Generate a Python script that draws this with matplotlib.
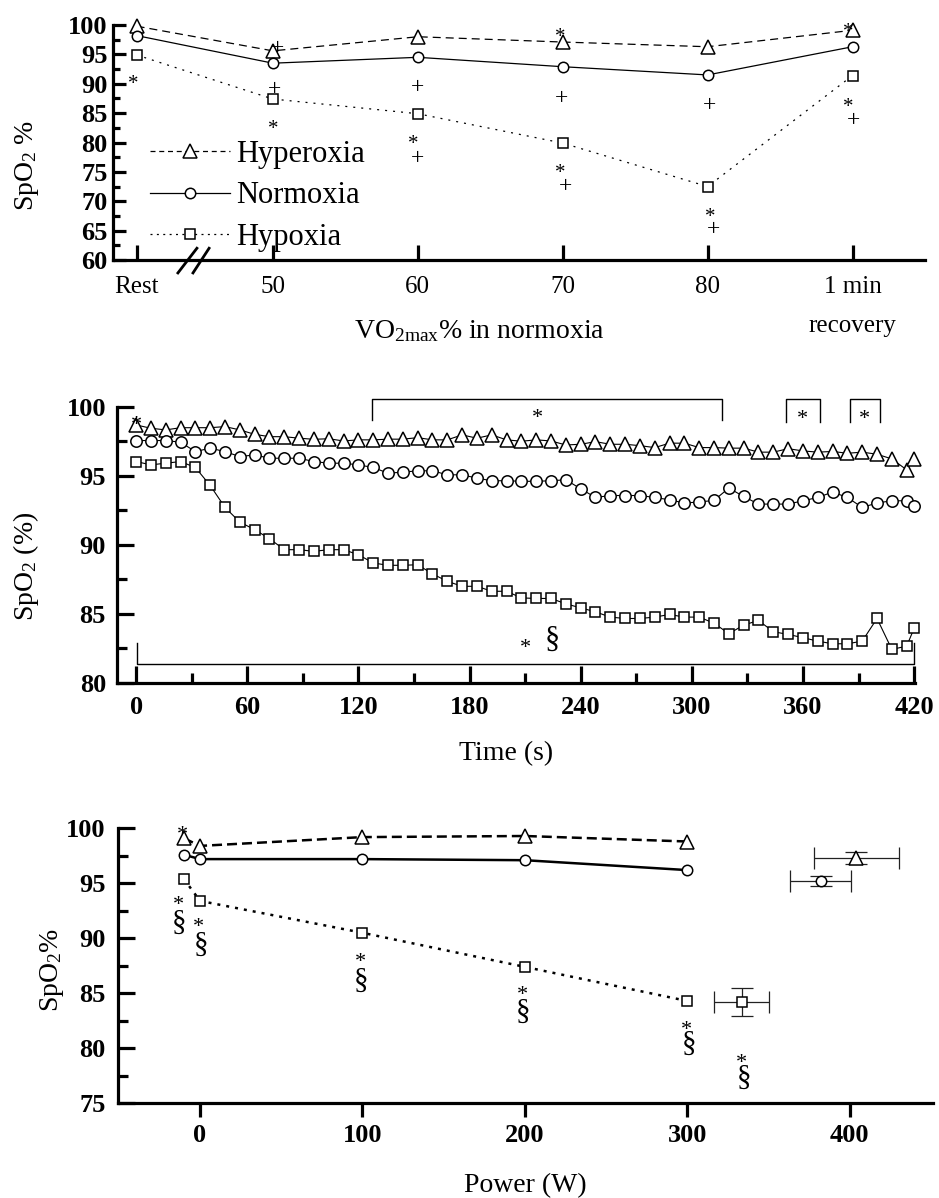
import matplotlib
matplotlib.use('Agg')
import matplotlib.pyplot as plt
from matplotlib.lines import Line2D
from matplotlib.transforms import ScaledTranslation, blended_transform_factory

plt.rcParams['font.family'] = ['Liberation Serif', 'DejaVu Serif']
plt.rcParams['mathtext.fontset'] = 'custom'
plt.rcParams['mathtext.rm'] = 'Liberation Serif'
plt.rcParams['mathtext.it'] = 'Liberation Serif:italic'
plt.rcParams['mathtext.bf'] = 'Liberation Serif:bold'

# ---------------- Panel A data ----------------
stage_labels = ['Rest', '50', '60', '70', '80', '1 min']
stage_pos = [40.6, 50, 60, 70, 80, 90]
hyper_a = [99.8, 95.6, 98.0, 97.1, 96.3, 99.1]
normo_a = [98.2, 93.5, 94.5, 92.9, 91.5, 96.3]
hypo_a = [94.9, 87.4, 84.9, 79.9, 72.5, 91.4]
stars_a = [(40.35, 90.8), (50.0, 83.15), (59.7, 80.5), (69.8, 98.7), (69.8, 75.6),
           (80.2, 68.2), (89.7, 99.7), (89.7, 86.9)]
plus_a = [(50.3, 96.1), (50.1, 89.1), (60.0, 89.4), (60.0, 77.4), (69.9, 87.5),
          (70.2, 72.5), (80.1, 86.4), (80.4, 65.2), (90.1, 83.8)]

# ---------------- Panel B data ----------------
time_b = [0, 8, 16, 24, 32, 40, 48, 56, 64, 72, 80, 88, 96, 104, 112, 120, 128, 136,
          144, 152, 160, 168, 176, 184, 192, 200, 208, 216, 224, 232, 240, 248, 256,
          264, 272, 280, 288, 296, 304, 312, 320, 328, 336, 344, 352, 360, 368, 376,
          384, 392, 400, 408, 416, 420]
hyper_b = [98.68, 98.44, 98.32, 98.48, 98.48, 98.48, 98.56, 98.32, 98.0, 97.83, 97.83,
           97.72, 97.64, 97.68, 97.52, 97.6, 97.6, 97.65, 97.65, 97.76, 97.6, 97.6,
           97.96, 97.72, 97.96, 97.6, 97.5, 97.6, 97.52, 97.23, 97.28, 97.47, 97.28,
           97.28, 97.18, 97.04, 97.36, 97.36, 97.04, 97.04, 97.0, 97.0, 96.71, 96.71,
           96.96, 96.8, 96.71, 96.76, 96.63, 96.71, 96.56, 96.22, 95.43, 96.22]
normo_b = [97.55, 97.55, 97.55, 97.43, 96.75, 97.0, 96.75, 96.39, 96.51, 96.27, 96.27,
           96.27, 96.03, 95.91, 95.91, 95.79, 95.6, 95.19, 95.26, 95.36, 95.36, 95.07,
           95.07, 94.83, 94.64, 94.64, 94.6, 94.6, 94.64, 94.71, 94.06, 93.43, 93.57,
           93.57, 93.57, 93.43, 93.26, 93.03, 93.1, 93.22, 94.11, 93.5, 92.95, 92.95,
           92.95, 93.19, 93.43, 93.82, 93.43, 92.71, 93.03, 93.19, 93.19, 92.78]
hypo_b = [96.03, 95.79, 95.91, 96.03, 95.6, 94.3, 92.71, 91.65, 91.1, 90.45, 89.65,
          89.65, 89.53, 89.65, 89.65, 89.29, 88.69, 88.52, 88.52, 88.56, 87.9, 87.36,
          87.0, 87.0, 86.64, 86.64, 86.16, 86.12, 86.12, 85.73, 85.44, 85.15, 84.77,
          84.67, 84.67, 84.77, 84.96, 84.77, 84.77, 84.33, 83.57, 84.19, 84.53, 83.71,
          83.52, 83.28, 83.03, 82.84, 82.84, 83.03, 84.67, 82.43, 82.67, 83.95]
time_ticks_b = [0, 60, 120, 180, 240, 300, 360, 420]

# ---------------- Panel C data ----------------
power_c = [-10, 0, 100, 200, 300]
hyper_c = [99.1, 98.4, 99.2, 99.3, 98.8]
normo_c = [97.6, 97.2, 97.2, 97.1, 96.2]
hypo_c = [95.4, 93.4, 90.5, 87.4, 84.3]
max_power = [404, 382, 333.5]
max_power_err = [26, 19, 17]
max_spo2 = [97.3, 95.2, 84.2]
max_spo2_err = [0.55, 0.45, 1.25]
power_ticks_c = [0, 100, 200, 300, 400]

W, H = 939, 1198
fig = plt.figure(figsize=(W / 100, H / 100), dpi=100)


def pxaxes(l, t, r, b):
    return fig.add_axes([l / W, 1 - b / H, (r - l) / W, (b - t) / H])


def glyph(ax, x, y, s, fs, k, **kw):
    tr = ax.transData + ScaledTranslation(0, -k * fs / 72, fig.dpi_scale_trans)
    ax.text(x, y, s, fontsize=fs, ha='center', va='baseline', transform=tr,
            clip_on=False, **kw)


def style(ax):
    for s in ['top', 'right']:
        ax.spines[s].set_visible(False)
    for s in ['left', 'bottom']:
        ax.spines[s].set_linewidth(2.3)


mk = dict(color='black', mfc='white', mec='black', mew=1.1)

# ================= Panel A =================
ax1 = pxaxes(113, 25, 925, 260)
style(ax1)
ax1.set_xlim(38.97, 95)
ax1.set_ylim(60, 100)
ax1.plot(stage_pos, hyper_a, ls=(0, (6.4, 4)), lw=0.9, marker='^', ms=10, zorder=3, clip_on=False, **mk)
ax1.plot(stage_pos, normo_a, ls='-', lw=0.9, marker='o', ms=7.5, zorder=3, clip_on=False, **mk)
ax1.plot(stage_pos, hypo_a, ls=(0, (1.6, 4.8)), lw=0.9, marker='s', ms=6.5, zorder=3, clip_on=False, **mk)
# axis break gap
ax1.axvspan(43.9, 44.97, ymin=0.04, ymax=1, color='white', zorder=2.5, lw=0)
btr = blended_transform_factory(ax1.transData, ax1.transAxes)
ax1.plot([43.45, 44.76], [-0.055, 0.05], color='black', lw=2, transform=btr, clip_on=False, zorder=5)
ax1.plot([44.49, 45.6], [-0.055, 0.05], color='black', lw=2, transform=btr, clip_on=False, zorder=5)
for x, y in stars_a:
    glyph(ax1, x, y, '*', 15, 0.47)
for x, y in plus_a:
    glyph(ax1, x, y, '+', 17, 0.25)
ax1.set_xticks(stage_pos)
ax1.set_xticklabels(stage_labels, fontsize=18)
ax1.text(stage_pos[-1], -0.305, 'recovery', transform=btr, ha='center', va='baseline', fontsize=18)
ax1.set_yticks(range(60, 101, 5))
ax1.set_yticks([62.5 + 5 * i for i in range(8)], minor=True)
ax1.tick_params(axis='y', which='major', direction='in', length=9, width=2.3, pad=4, labelsize=19)
ax1.tick_params(axis='y', which='minor', direction='in', length=5, width=2.3)
ax1.tick_params(axis='x', which='major', direction='in', length=11, width=2.3, pad=11.5)
for lab in ax1.get_yticklabels():
    lab.set_fontweight('bold')
ax1.text(0.451, -0.332, r'VO$_{\mathrm{2max}}$% in normoxia', transform=ax1.transAxes,
         ha='center', va='baseline', fontsize=20)
ax1.text(-0.106, 0.404, r'SpO$_{2}$ %', transform=ax1.transAxes, rotation=90,
         ha='center', va='center', fontsize=20)
handles = [
    Line2D([], [], ls=(0, (4, 3)), lw=0.9, marker='^', ms=10, **mk),
    Line2D([], [], ls='-', lw=0.9, marker='o', ms=7.5, **mk),
    Line2D([], [], ls=(0, (1.6, 3.5)), lw=0.9, marker='s', ms=6.5, **mk),
]
ax1.legend(handles, ['Hyperoxia', 'Normoxia', 'Hypoxia'], loc='upper left',
           bbox_to_anchor=(0.046, 0.51), frameon=False, fontsize=22, handlelength=2.6,
           handletextpad=0.2, labelspacing=0.4, borderpad=0, borderaxespad=0, numpoints=1)

# ================= Panel B =================
ax2 = pxaxes(117, 406.7, 915, 683)
style(ax2)
ax2.set_xlim(-10.3, 420.5)
ax2.set_ylim(80, 100)
ax2.plot(time_b, hyper_b, ls='-', lw=0.8, marker='^', ms=9.6, zorder=3, clip_on=False, **mk)
ax2.plot(time_b, normo_b, ls='-', lw=0.8, marker='o', ms=8.2, zorder=3, clip_on=False, **mk)
ax2.plot(time_b, hypo_b, ls='-', lw=0.8, marker='s', ms=7.3, zorder=3, clip_on=False, **mk)
bk = dict(color='black', lw=1.0, clip_on=False)
ax2.plot([127.3, 127.3, 316.2, 316.2], [99.04, 100.56, 100.56, 99.04], **bk)
ax2.plot([351, 351, 369.3, 369.3], [98.92, 100.56, 100.56, 98.92], **bk)
ax2.plot([385.5, 385.5, 401.4, 401.4], [98.92, 100.56, 100.56, 98.92], **bk)
ax2.plot([0.4, 0.4, 420, 420], [82.9, 81.4, 81.4, 82.9], **bk)
glyph(ax2, 0, 99.1, '*', 16, 0.47)
glyph(ax2, 216.9, 99.6, '*', 16, 0.47)
glyph(ax2, 360, 99.47, '*', 16, 0.47)
glyph(ax2, 393.1, 99.52, '*', 16, 0.47)
glyph(ax2, 210, 82.9, '*', 16, 0.47)
glyph(ax2, 224.4, 83.15, '§', 22, 0.27)
ax2.set_xticks(time_ticks_b)
ax2.set_xticks([30 + 60 * i for i in range(7)], minor=True)
ax2.set_yticks([80, 85, 90, 95, 100])
ax2.set_yticks([82.5, 87.5, 92.5, 97.5], minor=True)
ax2.tick_params(which='major', direction='in', length=12, width=2.3, labelsize=19)
ax2.tick_params(which='minor', direction='in', length=7, width=2.3)
ax2.tick_params(axis='y', pad=8)
ax2.tick_params(axis='x', pad=9)
for lab in ax2.get_xticklabels() + ax2.get_yticklabels():
    lab.set_fontweight('bold')
ax2.text(0.487, -0.28, 'Time (s)', transform=ax2.transAxes, ha='center', va='baseline', fontsize=20)
ax2.text(-0.114, 0.423, r'SpO$_{2}$ (%)', transform=ax2.transAxes, rotation=90,
         ha='center', va='center', fontsize=20)

# ================= Panel C =================
ax3 = pxaxes(118, 828.3, 932.7, 1103.3)
style(ax3)
ax3.set_xlim(-50.5, 451)
ax3.set_ylim(75, 100)
ax3.plot(power_c, hyper_c, ls=(0, (4, 2)), lw=1.8, marker='^', ms=9.5, zorder=3, clip_on=False, **mk)
ax3.plot(power_c, normo_c, ls='-', lw=1.8, marker='o', ms=7.5, zorder=3, clip_on=False, **mk)
ax3.plot(power_c, hypo_c, ls=(0, (1.2, 2.4)), lw=1.8, marker='s', ms=6.5, zorder=3, clip_on=False, **mk)
ax3.errorbar(max_power, max_spo2, xerr=max_power_err, yerr=max_spo2_err, fmt='none',
             ecolor='#222222', elinewidth=0.9, capsize=8, capthick=0.9, zorder=2)
for x, y, m, s in zip(max_power, max_spo2, ['^', 'o', 's'], [9.5, 7.5, 6.5]):
    ax3.plot([x], [y], ls='none', marker=m, ms=s, zorder=4, **mk)
glyph(ax3, -10.6, 99.9, '*', 16, 0.47)
star_sect_c = [(-13.3, 93.5, -12.9, 91.5), (-1.0, 91.5, 0.4, 89.5), (98.5, 88.3, 99.1, 86.2),
               (198.4, 85.3, 199.0, 83.4), (299.5, 82.2, 300.9, 80.5), (333.3, 79.2, 335.0, 77.4)]
for xs, ys, xq, yq in star_sect_c:
    glyph(ax3, xs, ys, '*', 16, 0.47)
    glyph(ax3, xq, yq, '§', 21, 0.27)
ax3.set_xticks(power_ticks_c)
ax3.set_yticks([75, 80, 85, 90, 95, 100])
ax3.set_yticks([77.5, 82.5, 87.5, 92.5, 97.5], minor=True)
ax3.tick_params(axis='y', which='major', direction='in', length=12, width=2.3, pad=9, labelsize=19)
ax3.tick_params(axis='y', which='minor', direction='in', length=7, width=2.3)
ax3.tick_params(axis='x', which='major', direction='out', length=10, width=2.3, pad=5, labelsize=19)
for lab in ax3.get_xticklabels() + ax3.get_yticklabels():
    lab.set_fontweight('bold')
ax3.text(0.5, -0.3225, 'Power (W)', transform=ax3.transAxes, ha='center', va='baseline', fontsize=20)
ax3.text(-0.081, 0.485, r'SpO$_{2}$%', transform=ax3.transAxes, rotation=90,
         ha='center', va='center', fontsize=20)

fig.savefig('out.png', dpi=100)
